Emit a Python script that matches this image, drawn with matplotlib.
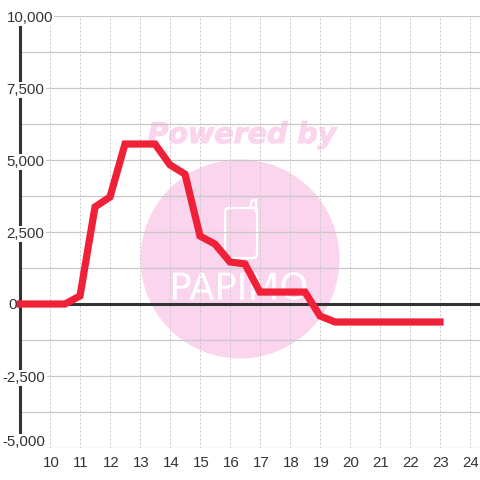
import matplotlib
matplotlib.use("Agg")
import matplotlib.pyplot as plt
import matplotlib.patheffects as pe
from matplotlib.patches import Circle, FancyBboxPatch
from matplotlib.transforms import ScaledTranslation

hours = [9, 10.5, 11, 11.5, 12, 12.5, 13.5, 14, 14.5, 15, 15.5, 16, 16.5, 17, 18.5, 19, 19.5, 23]
values = [0, 0, 280, 3370, 3715, 5555, 5555, 4830, 4510, 2360, 2080, 1460, 1390, 415, 415, -415, -625, -625]

x_ticks = list(range(10, 25))
y_major = [-5000, -2500, 0, 2500, 5000, 7500, 10000]
y_grid = [-5000, -3750, -2500, -1250, 0, 1250, 2500, 3750, 5000, 6250, 7500, 8750, 10000]
y_labels = ["-5,000", "-2,500", "0", "2,500", "5,000", "7,500", "10,000"]

plt.rcParams['font.family'] = ['Liberation Sans', 'DejaVu Sans']
dark = '#333333'
grid = '#c8c8c8'
pink = '#fbd5ee'

figure = plt.figure(figsize=(4.8, 4.8), dpi=100)

# watermark sits behind everything, in pixel coordinates
back = figure.add_axes([0, 0, 1, 1])
back.set_xlim(0, 480)
back.set_ylim(480, 0)
back.axis('off')
back.add_patch(Circle((240, 259), 99.5, color=pink, lw=0))
back.text(242, 135, "Powered by", color=pink, fontsize=20.5, fontweight='bold',
          fontstyle='italic', family='DejaVu Sans', ha='center', va='center',
          path_effects=[pe.withStroke(linewidth=0.8, foreground=pink)])
back.add_patch(FancyBboxPatch((225, 208), 32, 50, boxstyle="round,pad=0,rounding_size=4",
                              fc='none', ec='white', lw=1.6))
back.plot([250, 252, 256, 256], [208, 200, 200, 212], color='white', lw=1.6)
back.text(239, 289, "PAPIMO", color='white', fontsize=26.5, family='Liberation Sans Narrow',
          ha='center', va='center',
          path_effects=[pe.withStroke(linewidth=0.8, foreground=pink)])

axes = figure.add_axes([20 / 480, 32 / 480, 460 / 480, 432 / 480])
axes.patch.set_alpha(0)
axes.set_xlim(9, 9 + 460 / 30)
axes.set_ylim(-5000, 10000)
for side in ['top', 'right', 'bottom']:
    axes.spines[side].set_visible(False)
axes.spines['left'].set_color(dark)
axes.spines['left'].set_linewidth(2.2)
axes.spines['left'].set_bounds(-4580, 9720)

for v in y_grid:
    axes.axhline(v, color=grid, lw=0.9, zorder=1)
for t in x_ticks:
    axes.axvline(t, color=grid, lw=0.72, ls=(0, (2, 2)), zorder=1)
axes.axhline(0, color=dark, lw=2.2, zorder=2)
axes.plot(hours, values, color='#f02038', lw=5.2, solid_joinstyle='miter',
          solid_capstyle='projecting', clip_on=False, zorder=3)

axes.set_xticks(x_ticks)
axes.set_yticks([])
axes.tick_params(axis='x', length=0, pad=5.5, labelsize=10.8, colors=dark)
nudge = ScaledTranslation(1 / 100, 0, figure.dpi_scale_trans)
for label in axes.get_xticklabels():
    label.set_transform(label.get_transform() + nudge)

# y labels have a white box that cuts the axis line, "0" has none
for v, s in zip(y_major, y_labels):
    left = 8 if v == 0 else (2.5 if v < 0 else 6.5)
    drop = 0
    if v == -5000:
        drop = 6
    elif v != 0:
        drop = -2
    else:
        drop = -1
    box = None if v == 0 else dict(fc='white', ec='none', pad=1)
    axes.annotate(s, xy=(left, v), xycoords=('figure pixels', 'data'),
                  xytext=(0, drop), textcoords='offset pixels',
                  ha='left', va='center', fontsize=10.8, color=dark, zorder=5,
                  annotation_clip=False, bbox=box)

figure.savefig("out.png", dpi=100)
plt.close(figure)
